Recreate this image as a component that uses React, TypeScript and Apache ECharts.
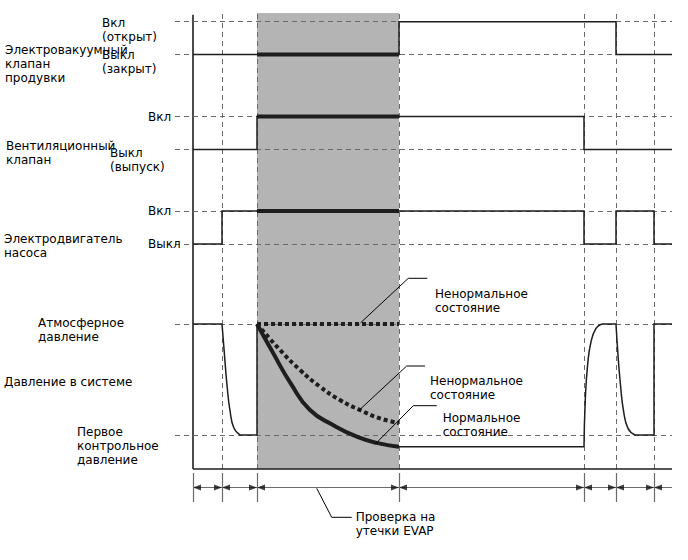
import React, { useEffect, useRef } from "react";
import * as echarts from "echarts";

// ---- data (time units along the shared x axis; states 0 = Выкл, 1 = Вкл) ----
const phaseTimes = [0, 29, 64, 206, 391, 423, 461];
const endTime = 479;
const testWindow = [64, 206];

const purgeValve: [number, number][] = [[0, 0], [206, 0], [206, 1], [423, 1], [423, 0], [479, 0]];
const purgeValveTest: [number, number][] = [[64, 0], [206, 0]];
const ventValve: [number, number][] = [[0, 0], [64, 0], [64, 1], [391, 1], [391, 0], [479, 0]];
const ventValveTest: [number, number][] = [[64, 1], [206, 1]];
const pumpMotor: [number, number][] = [[0, 0], [29, 0], [29, 1], [391, 1], [391, 0], [423, 0], [423, 1], [461, 1], [461, 0], [479, 0]];
const pumpMotorTest: [number, number][] = [[64, 1], [206, 1]];

// pressure: 1 = атмосферное, 0 = первое контрольное давление
const pressureStart: [number, number][] = [[0, 1], [29, 1]];
const pressureDrop1: [number, number][] = [[29, 1], [31.5, 0.72], [34, 0.45], [37, 0.22], [41, 0.06], [47, 0]];
const pressureHold1: [number, number][] = [[47, 0], [64, 0], [64, 1]];
const pressureNormal: [number, number][] = [[64, 1], [80, 0.74], [98, 0.46], [117, 0.225], [140, 0.09], [165, -0.02], [186, -0.075], [206, -0.105]];
const pressureAbnormalSmall: [number, number][] = [[64, 1], [87, 0.766], [107, 0.586], [127, 0.435], [147, 0.315], [167, 0.225], [187, 0.15], [206, 0.108]];
const pressureAbnormalLarge: [number, number][] = [[64, 1], [206, 1]];
const pressureHold2: [number, number][] = [[206, -0.105], [391, -0.105]];
const pressureRise: [number, number][] = [[391, -0.105], [392.2, 0.3], [394.5, 0.62], [398, 0.84], [403, 0.96], [408.7, 1]];
const pressureHold3: [number, number][] = [[408.7, 1], [423, 1]];
const pressureDrop2: [number, number][] = [[423, 1], [425, 0.72], [427.5, 0.45], [430.5, 0.22], [435, 0.06], [442, 0]];
const pressureEnd: [number, number][] = [[442, 0], [461, 0], [461, 1], [479, 1]];

const FONT = '12px "DejaVu Sans"';
const SIG = "#1e1e1e";
const DASH = "#6a6a6a";

export default function App() {
  const ref = useRef<HTMLDivElement>(null);
  useEffect(() => {
    if (!ref.current) return;
    const chart = echarts.init(ref.current, undefined, { renderer: "svg" });

    const grids = [
      { top: 13, height: 456 }, // background
      { top: 21.7, height: 32.8 }, // purge valve
      { top: 116.5, height: 33 }, // vent valve
      { top: 211, height: 33 }, // pump
      { top: 324, height: 111 }, // pressure
      { top: 473, height: 29 }, // phases
    ].map((g) => ({ left: 175, right: 16, ...g }));

    const xAxes = grids.map((_, i) => ({ type: "value", gridIndex: i, min: -18, max: endTime, show: false }));
    const yAxes = grids.map((_, i) => ({ type: "value", gridIndex: i, min: 0, max: 1, show: false }));

    const line = (g: number, data: [number, number][], width: number, extra: any = {}) => ({
      type: "line",
      xAxisIndex: g,
      yAxisIndex: g,
      data,
      symbol: "none",
      clip: false,
      silent: true,
      z: 5,
      lineStyle: { color: SIG, width, cap: "butt", join: "miter" },
      ...extra,
    });

    const levelLines = (g: number) => ({
      type: "line",
      xAxisIndex: g,
      yAxisIndex: g,
      data: [],
      silent: true,
      z: 3,
      markLine: {
        silent: true,
        symbol: "none",
        label: { show: false },
        lineStyle: { color: DASH, width: 1, type: [5, 4] },
        data: [
          [{ coord: [-18, 0] }, { coord: [endTime, 0] }],
          [{ coord: [-18, 1] }, { coord: [endTime, 1] }],
        ],
      },
    });

    const smooth = { smooth: 0.5 };
    const dotted = { lineStyle: { color: SIG, width: 4, type: [4, 3], cap: "butt" } };

    const series: any[] = [
      {
        type: "line",
        xAxisIndex: 0,
        yAxisIndex: 0,
        data: [],
        silent: true,
        z: 1,
        markArea: {
          silent: true,
          itemStyle: { color: "#b4b4b4" },
          data: [[{ xAxis: testWindow[0] }, { xAxis: testWindow[1] }]],
        },
      },
      {
        type: "line",
        xAxisIndex: 0,
        yAxisIndex: 0,
        data: [],
        silent: true,
        z: 2,
        markLine: {
          silent: true,
          symbol: "none",
          label: { show: false },
          lineStyle: { color: DASH, width: 1, type: [5, 4] },
          data: phaseTimes.slice(1).map((t) => ({ xAxis: t })),
        },
      },
      {
        type: "line",
        xAxisIndex: 0,
        yAxisIndex: 0,
        data: [],
        silent: true,
        z: 6,
        markLine: {
          silent: true,
          symbol: "none",
          label: { show: false },
          lineStyle: { color: SIG, width: 1.6, type: "solid" },
          data: [
            [{ coord: [0, 0] }, { coord: [0, 0.996] }],
            [{ coord: [0, 0] }, { coord: [endTime, 0] }],
          ],
        },
      },
      levelLines(1),
      levelLines(2),
      levelLines(3),
      levelLines(4),
      line(1, purgeValve, 1.5),
      line(1, purgeValveTest, 4),
      line(2, ventValve, 1.5),
      line(2, ventValveTest, 4),
      line(3, pumpMotor, 1.5),
      line(3, pumpMotorTest, 4),
      line(4, pressureStart, 1.5),
      line(4, pressureDrop1, 1.5, smooth),
      line(4, pressureHold1, 1.5),
      line(4, pressureNormal, 4, smooth),
      line(4, pressureAbnormalSmall, 4, { ...smooth, ...dotted }),
      line(4, pressureAbnormalLarge, 4, dotted),
      line(4, pressureHold2, 1.5),
      line(4, pressureRise, 1.5, smooth),
      line(4, pressureHold3, 1.5),
      line(4, pressureDrop2, 1.5, smooth),
      line(4, pressureEnd, 1.5),
      {
        type: "line",
        xAxisIndex: 5,
        yAxisIndex: 5,
        data: [[0, 0.5], [endTime, 0.5]],
        symbol: "none",
        silent: true,
        z: 3,
        lineStyle: { color: DASH, width: 1 },
        markLine: {
          silent: true,
          symbol: "none",
          label: { show: false },
          lineStyle: { color: DASH, width: 1.2, type: "solid" },
          data: phaseTimes.map((t) => ({ xAxis: t })),
        },
      },
      {
        type: "scatter",
        xAxisIndex: 5,
        yAxisIndex: 5,
        silent: true,
        z: 4,
        symbol: "triangle",
        symbolSize: [6, 8],
        symbolRotate: -90,
        itemStyle: { color: "#111" },
        data: phaseTimes.slice(1).map((t) => [t - 4, 0.5]),
      },
      {
        type: "scatter",
        xAxisIndex: 5,
        yAxisIndex: 5,
        silent: true,
        z: 4,
        symbol: "triangle",
        symbolSize: [6, 8],
        symbolRotate: 90,
        itemStyle: { color: "#111" },
        data: phaseTimes.map((t) => [t + 4, 0.5]),
      },
    ];

    const txt = (text: string, x: number, y: number) => ({
      type: "text",
      x,
      y,
      z: 20,
      silent: true,
      style: { text, x: 0, y: 0, fill: "#000", font: FONT, lineHeight: 14, align: "left", verticalAlign: "top" },
    });
    const leader = (points: number[][]) => ({
      type: "polyline",
      z: 20,
      silent: true,
      shape: { points },
      style: { stroke: "#000", lineWidth: 1, fill: null },
    });

    const graphic = [
      txt("Электровакуумный\nклапан\nпродувки", 5, 43),
      txt("Вкл\n(открыт)", 102, 15.5),
      txt("Выкл\n(закрыт)", 102, 48),
      txt("Вкл", 148, 109.5),
      txt("Вентиляционный\nклапан", 6, 139),
      txt("Выкл\n(выпуск)", 110, 145.5),
      txt("Вкл", 148, 204),
      txt("Электродвигатель\nнасоса", 4, 232),
      txt("Выкл", 148, 237),
      txt("Атмосферное\nдавление", 38, 316),
      txt("Давление в системе", 4, 375),
      txt("Первое\nконтрольное\nдавление", 77, 424.7),
      txt("Ненормальное\nсостояние", 435, 287),
      txt("Ненормальное\nсостояние", 430, 374),
      txt("Нормальное\nсостояние", 442.7, 411),
      txt("Проверка на\nутечки EVAP", 355.7, 510),
      leader([[360.7, 322.7], [408.3, 278.3], [427.3, 278.3]]),
      leader([[358.3, 411], [406.7, 366], [425, 366]]),
      leader([[375, 444.3], [413.3, 405.7], [436.7, 405.7]]),
      leader([[316.7, 488.3], [331.7, 517.3], [351.7, 517.3]]),
    ];

    chart.setOption({
      animation: false,
      backgroundColor: "#fff",
      grid: grids,
      xAxis: xAxes,
      yAxis: yAxes,
      series,
      graphic,
    });
    return () => chart.dispose();
  }, []);
  return <div ref={ref} style={{ position: "fixed", left: 0, top: 0, width: 688, height: 560 }} />;
}
